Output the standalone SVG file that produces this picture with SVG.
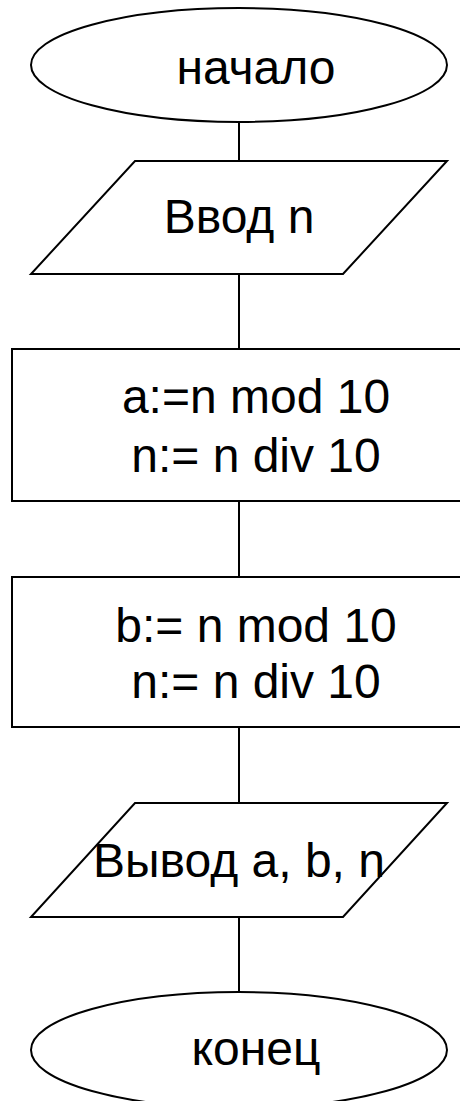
<svg xmlns="http://www.w3.org/2000/svg" width="460" height="1101" viewBox="0 0 460 1101">
<style>
.s{fill:#fff;stroke:#000;stroke-width:2}
.t{font-family:"Liberation Sans",Arial,sans-serif;font-size:48px;fill:#000;text-anchor:middle}
.c{stroke:#000;stroke-width:2;fill:none}
</style>
<rect width="460" height="1101" fill="#fff"/>
<g id="connectors">
<line class="c" x1="239" y1="122" x2="239" y2="161"/>
<line class="c" x1="239" y1="274" x2="239" y2="349"/>
<line class="c" x1="239" y1="501" x2="239" y2="577"/>
<line class="c" x1="239" y1="727" x2="239" y2="803"/>
<line class="c" x1="239" y1="917" x2="239" y2="992"/>
</g>
<g id="start">
<ellipse class="s" cx="239" cy="65" rx="208" ry="57"/>
<text class="t" x="256" y="84">начало</text>
</g>
<g id="input">
<polygon class="s" points="135,161 447,161 343,274 31,274"/>
<text class="t" x="239" y="233">Ввод n</text>
</g>
<g id="proc1">
<rect class="s" x="12" y="349" width="470" height="152"/>
<text class="t" x="256" y="413">a:=n mod 10</text>
<text class="t" x="256" y="472">n:= n div 10</text>
</g>
<g id="proc2">
<rect class="s" x="12" y="577" width="470" height="150"/>
<text class="t" x="256" y="642">b:= n mod 10</text>
<text class="t" x="256" y="698">n:= n div 10</text>
</g>
<g id="output">
<polygon class="s" points="135,803 447,803 343,917 31,917"/>
<text class="t" x="239" y="877">Вывод a, b, n</text>
</g>
<g id="end">
<ellipse class="s" cx="239" cy="1050" rx="208" ry="58"/>
<text class="t" x="256" y="1065">конец</text>
</g>
</svg>
